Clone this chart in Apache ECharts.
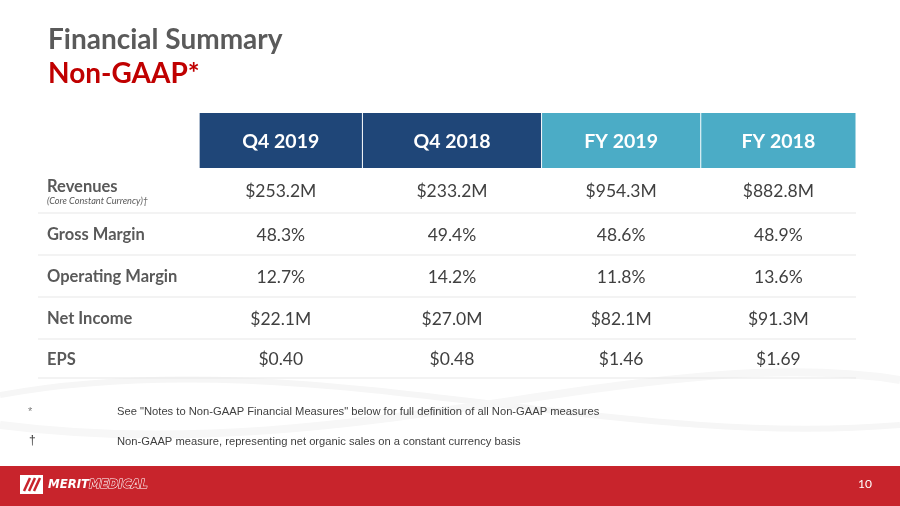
<!DOCTYPE html>
<html>
<head>
<meta charset="utf-8">
<script src="https://cdn.jsdelivr.net/npm/echarts@6/dist/echarts.min.js"></script>
<style>
  html, body { margin: 0; padding: 0; background: #ffffff; }
  #chart { width: 900px; height: 506px; }
</style>
</head>
<body>
<div id="chart"></div>
<script>
// ---------- DATA ----------
const columns = ['Q4 2019', 'Q4 2018', 'FY 2019', 'FY 2018'];
const metrics = ['Revenues', 'Gross Margin', 'Operating Margin', 'Net Income', 'EPS'];
const metricNotes = ['(Core Constant Currency)†', '', '', '', ''];
const metricUnits = ['M', '%', '%', 'M', 'EPS'];
const q4_2019 = [253.2, 48.3, 12.7, 22.1, 0.40];
const q4_2018 = [233.2, 49.4, 14.2, 27.0, 0.48];
const fy_2019 = [954.3, 48.6, 11.8, 82.1, 1.46];
const fy_2018 = [882.8, 48.9, 13.6, 91.3, 1.69];
const titleText = 'Financial Summary';
const subtitleText = 'Non-GAAP*';
const footnotes = [
  ['*', 'See "Notes to Non-GAAP Financial Measures" below for full definition of all Non-GAAP measures'],
  ['†', 'Non-GAAP measure, representing net organic sales on a constant currency basis']
];
const pageNumber = '10';

// ---------- LAYOUT (axis units) ----------
const colEdges = [0, 0.985, 1.983, 3.078, 4.051, 5];
const rowEdges = [0, 55, 100, 142, 184, 226, 265];

function fmt(v, unit) {
  if (unit === 'M') return '$' + v.toFixed(1) + 'M';
  if (unit === '%') return v.toFixed(1) + '%';
  return '$' + v.toFixed(2);
}

const valueCols = [q4_2019, q4_2018, fy_2019, fy_2018];
const headerData = columns.map((c, i) => [i + 1, 0, c]);
const labelData = metrics.map((m, r) => [0, r + 1, m, metricNotes[r]]);
const cellData = [];
valueCols.forEach((arr, c) => arr.forEach((v, r) => cellData.push([c + 1, r + 1, fmt(v, metricUnits[r])])));
const lineData = metrics.map((m, r) => [0, r + 1]);

const FONT = 'Lato, "Open Sans", sans-serif';
const ARIAL = '"Liberation Sans", Arial, sans-serif';
const headerColors = ['#1f4678', '#1f4678', '#4bacc6', '#4bacc6'];

function cellBox(api, c, r) {
  const p0 = api.coord([colEdges[c], rowEdges[r]]);
  const p1 = api.coord([colEdges[c + 1], rowEdges[r + 1]]);
  return { x0: p0[0], y0: p0[1], x1: p1[0], y1: p1[1] };
}

const chart = echarts.init(document.getElementById('chart'), null, { renderer: 'canvas' });
chart.setOption({
  backgroundColor: '#ffffff',
  animation: false,
  grid: { left: 38, right: 44, top: 113, bottom: 128 },
  xAxis: { type: 'value', min: 0, max: 5, show: false },
  yAxis: { type: 'value', min: 0, max: 265, inverse: true, show: false },
  graphic: [
    // soft background swooshes
    { type: 'bezierCurve', silent: true, z: -10,
      shape: { x1: 0, y1: 395, x2: 900, y2: 425, cpx1: 300, cpy1: 340, cpx2: 600, cpy2: 450 },
      style: { stroke: '#f6f6f6', lineWidth: 6, fill: null } },
    { type: 'bezierCurve', silent: true, z: -10,
      shape: { x1: 0, y1: 425, x2: 900, y2: 380, cpx1: 350, cpy1: 470, cpx2: 650, cpy2: 340 },
      style: { stroke: '#f7f7f7', lineWidth: 8, fill: null } },
    { type: 'text', left: 48, top: 26,
      style: { text: titleText, font: 'bold 28px ' + FONT, fill: '#5a5a5a' } },
    { type: 'text', left: 48, top: 60,
      style: { text: subtitleText, font: 'bold 28px ' + FONT, fill: '#c00000' } },
    { type: 'text', left: 28, top: 406,
      style: { text: footnotes[0][0], font: '11px ' + ARIAL, fill: '#7f7f7f' } },
    { type: 'text', left: 117, top: 406,
      style: { text: footnotes[0][1], font: '11.2px ' + ARIAL, fill: '#404040' } },
    { type: 'text', left: 29, top: 435,
      style: { text: footnotes[1][0], font: '12px ' + ARIAL, fill: '#404040' } },
    { type: 'text', left: 117, top: 436,
      style: { text: footnotes[1][1], font: '11.2px ' + ARIAL, fill: '#404040' } },
    // footer
    { type: 'rect', shape: { x: 0, y: 466, width: 900, height: 40 }, style: { fill: '#c8242c' } },
    { type: 'rect', shape: { x: 20, y: 475, width: 23, height: 19 }, style: { fill: '#ffffff' } },
    { type: 'polyline', shape: { points: [[24, 491], [30, 478]] }, style: { stroke: '#c8242c', lineWidth: 2.5 } },
    { type: 'polyline', shape: { points: [[29, 491], [35, 478]] }, style: { stroke: '#c8242c', lineWidth: 2.5 } },
    { type: 'polyline', shape: { points: [[34, 491], [40, 478]] }, style: { stroke: '#c8242c', lineWidth: 2.5 } },
    { type: 'text', left: 48, top: 478,
      style: {
        text: '{a|MERIT}{b|MEDICAL}',
        rich: {
          a: { font: 'italic bold 13px "DejaVu Sans Condensed", "DejaVu Sans", sans-serif', fill: '#ffffff' },
          b: { font: 'italic bold 13px "DejaVu Sans Condensed", "DejaVu Sans", sans-serif', fill: '#c8242c',
               stroke: '#ffffff', lineWidth: 1 }
        }
      } },
    { type: 'text', left: 858, top: 478,
      style: { text: pageNumber, font: '12px ' + FONT, fill: '#ffffff' } }
  ],
  series: [
    {
      type: 'custom', name: 'header', clip: false,
      data: headerData,
      renderItem: function (params, api) {
        const c = api.value(0), r = api.value(1);
        const b = cellBox(api, c, r);
        const text = headerData[params.dataIndex][2];
        return {
          type: 'group',
          children: [
            { type: 'rect', shape: { x: b.x0 + 0.5, y: b.y0, width: b.x1 - b.x0 - 1, height: b.y1 - b.y0 },
              style: { fill: headerColors[c - 1] } },
            { type: 'text', style: { text: text, x: (b.x0 + b.x1) / 2, y: (b.y0 + b.y1) / 2 + 1,
              align: 'center', verticalAlign: 'middle', font: 'bold 19.5px ' + FONT, fill: '#ffffff' } }
          ]
        };
      }
    },
    {
      type: 'custom', name: 'rowlines', clip: false,
      data: lineData,
      renderItem: function (params, api) {
        const r = api.value(1);
        const p0 = api.coord([colEdges[0], rowEdges[r + 1]]);
        const p1 = api.coord([colEdges[5], rowEdges[r + 1]]);
        return { type: 'line', shape: { x1: p0[0], y1: p0[1], x2: p1[0], y2: p1[1] },
          style: { stroke: '#e7e7e7', lineWidth: 1.2 } };
      }
    },
    {
      type: 'custom', name: 'labels', clip: false,
      data: labelData,
      renderItem: function (params, api) {
        const r = api.value(1);
        const b = cellBox(api, 0, r);
        const d = labelData[params.dataIndex];
        const cy = (b.y0 + b.y1) / 2;
        const children = [];
        if (d[3]) {
          children.push({ type: 'text', style: { text: d[2], x: b.x0 + 9, y: cy - 4, verticalAlign: 'middle',
            font: 'bold 16.5px ' + FONT, fill: '#595959' } });
          children.push({ type: 'text', style: { text: d[3], x: b.x0 + 9, y: cy + 11, verticalAlign: 'middle',
            font: 'italic 9.2px ' + FONT, fill: '#595959' } });
        } else {
          children.push({ type: 'text', style: { text: d[2], x: b.x0 + 9, y: cy + 1, verticalAlign: 'middle',
            font: 'bold 16.5px ' + FONT, fill: '#595959' } });
        }
        return { type: 'group', children: children };
      }
    },
    {
      type: 'custom', name: 'cells', clip: false,
      data: cellData,
      renderItem: function (params, api) {
        const c = api.value(0), r = api.value(1);
        const b = cellBox(api, c, r);
        return { type: 'text', style: { text: cellData[params.dataIndex][2],
          x: (b.x0 + b.x1) / 2, y: (b.y0 + b.y1) / 2 + 1, align: 'center', verticalAlign: 'middle',
          font: '17.5px ' + FONT, fill: '#404040' } };
      }
    }
  ]
});
</script>
</body>
</html>
